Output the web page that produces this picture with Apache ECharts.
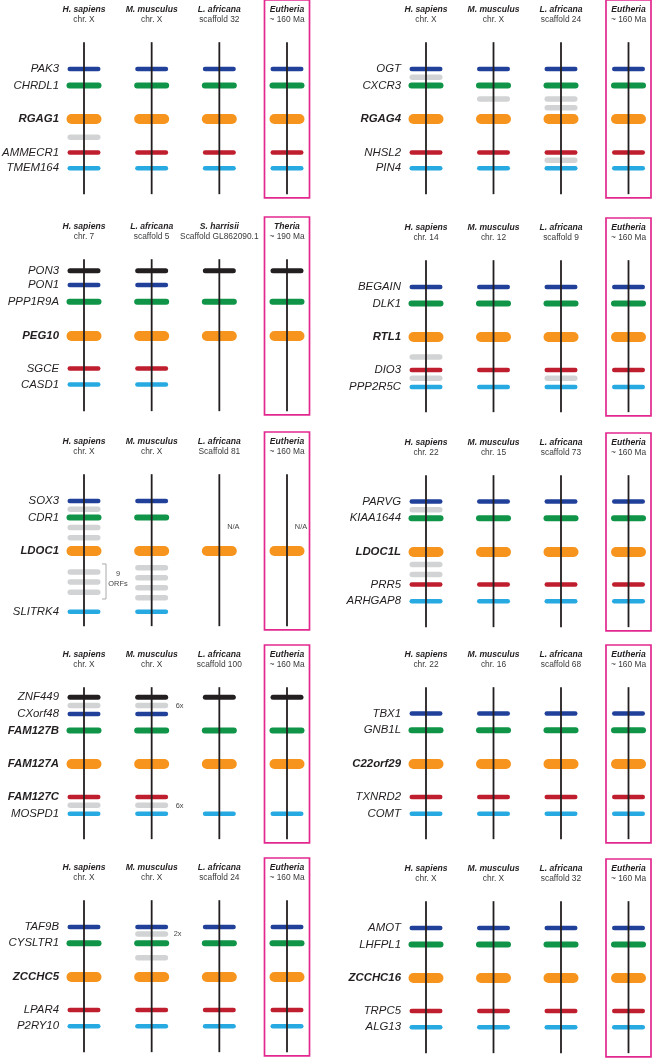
<!DOCTYPE html>
<html>
<head>
<meta charset="utf-8">
<script src="https://cdn.jsdelivr.net/npm/echarts@6/dist/echarts.min.js"></script>
<style>
  html, body { margin: 0; background: #fff; }
  #chart { width: 653px; height: 1059px; }
</style>
</head>
<body>
<div id="chart"></div>
<script>
// positions are in "slots" along the chromosome, 0 = focal (orange) gene
const eutherians = ['H. sapiens', 'M. musculus', 'L. africana', 'Eutheria'];
const usualKinds = ['blue', 'green', 'orange', 'red', 'cyan'];

// RGAG1
const rgag1Loci = ['chr. X', 'chr. X', 'scaffold 32', '~ 160 Ma'];
const rgag1Genes = ['PAK3', 'CHRDL1', 'RGAG1', 'AMMECR1', 'TMEM164'];
const rgag1Pos = [-6, -4, 0, 4, 5.9];
const rgag1Gray = [[1, 2.2]];

// RGAG4
const rgag4Loci = ['chr. X', 'chr. X', 'scaffold 24', '~ 160 Ma'];
const rgag4Genes = ['OGT', 'CXCR3', 'RGAG4', 'NHSL2', 'PIN4'];
const rgag4Pos = [-6, -4, 0, 4, 5.9];
const rgag4Gray = [[1, -5], [2, -2.4], [3, -2.4], [3, -1.35], [3, 4.95]];

// PEG10
const peg10Species = ['H. sapiens', 'L. africana', 'S. harrisii', 'Theria'];
const peg10Loci = ['chr. 7', 'scaffold 5', 'Scaffold GL862090.1', '~ 190 Ma'];
const peg10Genes = ['PON3', 'PON1', 'PPP1R9A', 'PEG10', 'SGCE', 'CASD1'];
const peg10Pos = [-7.8, -6.1, -4.1, 0, 3.9, 5.8];
const peg10Kinds = ['black', 'blue', 'green', 'orange', 'red', 'cyan'];
const peg10Present = [[1, 1, 1, 1], [1, 1, 0, 0], [1, 1, 1, 1], [1, 1, 1, 1], [1, 1, 0, 0], [1, 1, 0, 0]];

// RTL1
const rtl1Loci = ['chr. 14', 'chr. 12', 'scaffold 9', '~ 160 Ma'];
const rtl1Genes = ['BEGAIN', 'DLK1', 'RTL1', 'DIO3', 'PPP2R5C'];
const rtl1Pos = [-6, -4, 0, 3.95, 6];
const rtl1Gray = [[1, 2.4], [1, 4.95], [3, 4.95]];

// LDOC1
const ldoc1Loci = ['chr. X', 'chr. X', 'Scaffold 81', '~ 160 Ma'];
const ldoc1Genes = ['SOX3', 'CDR1', 'LDOC1', 'SLITRK4'];
const ldoc1Pos = [-6, -4, 0, 7.27];
const ldoc1Kinds = ['blue', 'green', 'orange', 'cyan'];
const ldoc1Present = [[1, 1, 0, 0], [1, 1, 0, 0], [1, 1, 1, 1], [1, 1, 0, 0]];
const ldoc1Gray = [[1, -5], [1, -2.8], [1, -1.6], [1, 2.5], [1, 3.7], [1, 4.95],
  [2, 2.0], [2, 3.2], [2, 4.4], [2, 5.6]];
const ldoc1Notes = [[3, -2.9, 'N/A'], [4, -2.9, 'N/A'], [1, 3.35, '9\nORFs']];
const ldoc1Brackets = [[1, 1.55, 5.75]];

// LDOC1L
const ldoc1lLoci = ['chr. 22', 'chr. 15', 'scaffold 73', '~ 160 Ma'];
const ldoc1lGenes = ['PARVG', 'KIAA1644', 'LDOC1L', 'PRR5', 'ARHGAP8'];
const ldoc1lPos = [-6.05, -4.05, 0, 3.9, 5.9];
const ldoc1lGray = [[1, -5.05], [1, 1.5], [1, 2.7]];

// FAM127
const fam127Loci = ['chr. X', 'chr. X', 'scaffold 100', '~ 160 Ma'];
const fam127Genes = ['ZNF449', 'CXorf48', 'FAM127B', 'FAM127A', 'FAM127C', 'MOSPD1'];
const fam127Pos = [-8, -6, -4, 0, 3.95, 5.95];
const fam127Kinds = ['black', 'blue', 'green', 'orange', 'red', 'cyan'];
const fam127Present = [[1, 1, 1, 1], [1, 1, 0, 0], [1, 1, 1, 1], [1, 1, 1, 1], [1, 1, 0, 0], [1, 1, 1, 1]];
const fam127Bold = ['FAM127B', 'FAM127A', 'FAM127C'];
const fam127Gray = [[1, -7], [2, -7], [1, 4.95], [2, 4.95]];
const fam127Notes = [[2, -7, '6x'], [2, 5, '6x']];

// C22orf29
const c22Loci = ['chr. 22', 'chr. 16', 'scaffold 68', '~ 160 Ma'];
const c22Genes = ['TBX1', 'GNB1L', 'C22orf29', 'TXNRD2', 'COMT'];
const c22Pos = [-6.05, -4.05, 0, 3.95, 5.95];

// ZCCHC5
const zcchc5Loci = ['chr. X', 'chr. X', 'scaffold 24', '~ 160 Ma'];
const zcchc5Genes = ['TAF9B', 'CYSLTR1', 'ZCCHC5', 'LPAR4', 'P2RY10'];
const zcchc5Pos = [-6, -4.05, 0, 3.95, 5.9];
const zcchc5Gray = [[2, -5.15], [2, -2.3]];
const zcchc5Notes = [[2, -5.15, '2x']];

// ZCCHC16
const zcchc16Loci = ['chr. X', 'chr. X', 'scaffold 32', '~ 160 Ma'];
const zcchc16Genes = ['AMOT', 'LHFPL1', 'ZCCHC16', 'TRPC5', 'ALG13'];
const zcchc16Pos = [-6, -4, 0, 3.95, 5.9];

const chromTop = -9.2, chromBottom = 9.0;

const panels = [
  { species: eutherians, loci: rgag1Loci, genes: rgag1Genes, pos: rgag1Pos, gray: rgag1Gray },
  { species: eutherians, loci: rgag4Loci, genes: rgag4Genes, pos: rgag4Pos, gray: rgag4Gray },
  { species: peg10Species, loci: peg10Loci, genes: peg10Genes, pos: peg10Pos, kinds: peg10Kinds, present: peg10Present },
  { species: eutherians, loci: rtl1Loci, genes: rtl1Genes, pos: rtl1Pos, gray: rtl1Gray },
  { species: eutherians, loci: ldoc1Loci, genes: ldoc1Genes, pos: ldoc1Pos, kinds: ldoc1Kinds, present: ldoc1Present,
    gray: ldoc1Gray, notes: ldoc1Notes, brackets: ldoc1Brackets },
  { species: eutherians, loci: ldoc1lLoci, genes: ldoc1lGenes, pos: ldoc1lPos, gray: ldoc1lGray },
  { species: eutherians, loci: fam127Loci, genes: fam127Genes, pos: fam127Pos, kinds: fam127Kinds, present: fam127Present,
    bold: fam127Bold, gray: fam127Gray, notes: fam127Notes },
  { species: eutherians, loci: c22Loci, genes: c22Genes, pos: c22Pos },
  { species: eutherians, loci: zcchc5Loci, genes: zcchc5Genes, pos: zcchc5Pos, gray: zcchc5Gray, notes: zcchc5Notes },
  { species: eutherians, loci: zcchc16Loci, genes: zcchc16Genes, pos: zcchc16Pos },
];

// ---- layout / style ----
const FONT = "'Liberation Sans', Arial, sans-serif";
const INK = '#231f20';
const PINK = '#e2288e';
const SLOT = 8.35;               // px per position slot
const yMin = -10.9, yMax = 9.5;  // visible slot range of each grid
const frameTop = -14.25, frameBottom = 9.45;
const trackX = [84, 426];
const trackSpan = [203, 202.5];
const focalY = [[119, 119], [336, 337], [551, 552], [764, 764], [977, 978]];

const kindStyle = {
  blue: { color: '#21409a', w: 33, h: 4.5 },
  green: { color: '#0f9448', w: 35, h: 6 },
  orange: { color: '#f7941d', w: 35, h: 10 },
  red: { color: '#be1e2d', w: 33, h: 4.5 },
  cyan: { color: '#27aae1', w: 33, h: 4.5 },
  black: { color: '#231f20', w: 33, h: 5 },
  gray: { color: '#d1d3d4', w: 33, h: 5.5 },
};
const noteStyle = {
  'N/A': { dx: 14, align: 'center' },
  '9\nORFs': { dx: 34, align: 'center' },
  '6x': { dx: 24, align: 'left' },
  '2x': { dx: 22, align: 'left' },
};

function buildMarks(p) {
  const kinds = p.kinds || usualKinds;
  const marks = [];
  (p.gray || []).forEach(([c, y]) => marks.push({ t: 'gene', col: c, y, kind: 'gray' }));
  p.genes.forEach((g, i) => {
    const on = p.present ? p.present[i] : [1, 1, 1, 1];
    on.forEach((v, c) => { if (v) marks.push({ t: 'gene', col: c + 1, y: p.pos[i], kind: kinds[i] }); });
    const bold = kinds[i] === 'orange' || (p.bold || []).includes(g);
    marks.push({ t: 'label', col: 1, y: p.pos[i], text: g, bold });
  });
  for (let c = 1; c <= 4; c++) marks.push({ t: 'chrom', col: c, y: chromTop, y2: chromBottom });
  (p.brackets || []).forEach(([c, y, y2]) => marks.push({ t: 'bracket', col: c, y, y2 }));
  (p.notes || []).forEach(([c, y, text]) => marks.push({ t: 'note', col: c, y, text }));
  marks.push({ t: 'frame', col: 4, y: frameTop, y2: frameBottom });
  return marks;
}

function drawMark(m, api) {
  const [x, y] = api.coord([m.col, m.y]);
  if (m.t === 'gene') {
    const s = kindStyle[m.kind];
    return { type: 'rect', shape: { x: x - s.w / 2, y: y - s.h / 2, width: s.w, height: s.h, r: s.h / 2 },
      style: { fill: s.color } };
  }
  if (m.t === 'chrom') {
    const y2 = api.coord([m.col, m.y2])[1];
    return { type: 'line', shape: { x1: x, y1: y, x2: x, y2 }, style: { stroke: INK, lineWidth: 1.8 } };
  }
  if (m.t === 'frame') {
    const y2 = api.coord([m.col, m.y2])[1];
    return { type: 'rect', shape: { x: x - 22.5, y, width: 45, height: y2 - y },
      style: { fill: 'none', stroke: PINK, lineWidth: 1.7 } };
  }
  if (m.t === 'bracket') {
    const y2 = api.coord([m.col, m.y2])[1];
    return { type: 'polyline', shape: { points: [[x + 18, y], [x + 22, y], [x + 22, y2], [x + 18, y2]] },
      style: { fill: 'none', stroke: '#aaa', lineWidth: 1 } };
  }
  if (m.t === 'label') {
    return { type: 'text', x: x - 25, y, style: {
      text: m.text, fill: INK,
      font: (m.bold ? 'italic bold ' : 'italic ') + '11.4px ' + FONT,
      align: 'right', verticalAlign: 'middle', textAlign: 'right', textVerticalAlign: 'middle' } };
  }
  if (m.t === 'note') {
    const ns = noteStyle[m.text];
    return { type: 'text', x: x + ns.dx, y, style: {
      text: m.text, fill: '#444', font: '7.4px ' + FONT, lineHeight: 10,
      align: ns.align, verticalAlign: 'middle', textAlign: ns.align, textVerticalAlign: 'middle' } };
  }
  return null;
}

const grids = [], xAxes = [], yAxes = [], series = [];
panels.forEach((p, i) => {
  const side = i % 2, row = Math.floor(i / 2);
  grids.push({
    left: trackX[side], width: trackSpan[side],
    top: focalY[row][side] + yMin * SLOT, height: (yMax - yMin) * SLOT,
    outerBoundsMode: 'none', containLabel: false,
  });
  xAxes.push({
    gridIndex: i, type: 'value', min: 1, max: 4, interval: 1, position: 'top',
    axisLine: { show: false }, axisTick: { show: false }, splitLine: { show: false },
    axisLabel: {
      margin: 3, showMinLabel: true, showMaxLabel: true, hideOverlap: false,
      formatter: v => `{a|${p.species[v - 1]}}\n{b|${p.loci[v - 1]}}`,
      rich: {
        a: { fontFamily: FONT, fontSize: 8.6, fontStyle: 'italic', fontWeight: 'bold', color: INK, lineHeight: 10, align: 'center' },
        b: { fontFamily: FONT, fontSize: 8.4, color: '#3a3a3a', lineHeight: 10, align: 'center' },
      },
    },
  });
  yAxes.push({ gridIndex: i, type: 'value', min: yMin, max: yMax, inverse: true, show: false });
  const marks = buildMarks(p);
  series.push({
    type: 'custom', xAxisIndex: i, yAxisIndex: i, silent: true, clip: false,
    data: marks.map(m => [m.col, m.y]), encode: { x: 0, y: 1 },
    renderItem: (params, api) => drawMark(marks[params.dataIndex], api),
  });
});

const chart = echarts.init(document.getElementById('chart'), null, { renderer: 'canvas' });
chart.setOption({
  backgroundColor: '#fff',
  animation: false,
  grid: grids,
  xAxis: xAxes,
  yAxis: yAxes,
  series,
});
</script>
</body>
</html>
